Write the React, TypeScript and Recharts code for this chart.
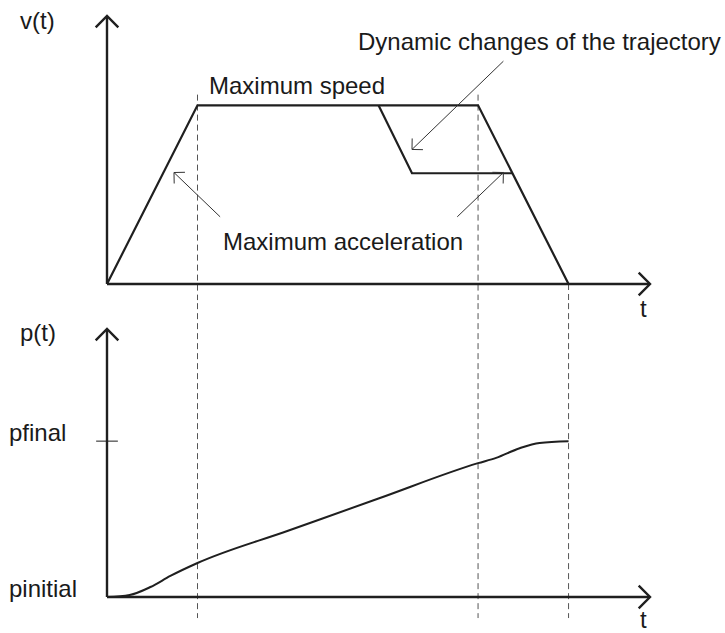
import React from "react";
import { LineChart, Line, XAxis, YAxis, ReferenceLine } from "recharts";

const INK = "#1f1f1f";
const FONT = "'Liberation Sans', Arial, Helvetica, sans-serif";

// speed profile: time vs speed (max speed = 1)
const speedT = [0, 1, 4.1, 5.1];
const speedV = [0, 1, 1, 0];

// dynamic change of the trajectory
const changeT = [3.0, 3.37, 4.48];
const changeV = [1, 0.62, 0.62];

// position profile (pinitial = 0, pfinal = 1)
const posT = [0, 0.25, 0.48, 0.7, 1, 2, 3, 4.1, 4.3, 4.56, 4.78, 5.1];
const posP = [0, 0.013, 0.064, 0.135, 0.218, 0.425, 0.632, 0.859, 0.893, 0.955, 0.989, 1.0];

// phase boundaries (end of accel, start of decel, stop)
const phaseT = [1, 4.1, 5.1];

const speed = speedT.map((t, i) => ({ t, v: speedV[i] }));
const change = changeT.map((t, i) => ({ t, v: changeV[i] }));
const position = posT.map((t, i) => ({ t, p: posP[i] }));

const arrow =
  (len: number, stroke: string, width: number) =>
  (props: any) => {
    const { x1, y1, x2, y2 } = props;
    const a = Math.atan2(y2 - y1, x2 - x1);
    const h = Math.PI / 4;
    const ax = x2 - len * Math.cos(a - h);
    const ay = y2 - len * Math.sin(a - h);
    const bx = x2 - len * Math.cos(a + h);
    const by = y2 - len * Math.sin(a + h);
    return (
      <g>
        <line x1={x1} y1={y1} x2={x2} y2={y2} stroke={stroke} strokeWidth={width} />
        <polyline
          points={`${ax},${ay} ${x2},${y2} ${bx},${by}`}
          fill="none"
          stroke={stroke}
          strokeWidth={width}
        />
      </g>
    );
  };

const axisArrow = arrow(16, INK, 2.4);
const noteArrow = arrow(11, "#333", 1);

const txt = { fontFamily: FONT, fontSize: 24, fill: "#1a1a1a" };

const PTick = ({ y, payload }: any) => (
  <text x={9} y={y} {...txt}>
    {payload.value === 1 ? "pfinal" : "pinitial"}
  </text>
);

export default function App() {
  return (
    <div
      style={{
        position: "absolute",
        left: 0,
        top: 0,
        width: 725,
        height: 633,
        background: "#fff",
      }}
    >
      <div style={{ position: "absolute", left: 0, top: 300 }}>
        <LineChart
          width={725}
          height={333}
          margin={{ top: 29, right: 75, bottom: 36, left: 0 }}
        >
          <XAxis type="number" dataKey="t" domain={[0, 6]} hide />
          <YAxis
            type="number"
            domain={[0, 1.72]}
            width={107}
            ticks={[0, 1]}
            tick={<PTick />}
            axisLine={false}
            tickLine={false}
          />
          {phaseT.map((t) => (
            <ReferenceLine
              key={t}
              segment={[
                { x: t, y: 1.95 },
                { x: t, y: -0.135 },
              ]}
              stroke="#555"
              strokeDasharray="6 4"
              strokeWidth={1}
              ifOverflow="visible"
            />
          ))}
          <ReferenceLine
            segment={[
              { x: -0.12, y: 1 },
              { x: 0.12, y: 1 },
            ]}
            stroke="#666"
            strokeWidth={1.5}
            ifOverflow="visible"
          />
          <ReferenceLine
            segment={[
              { x: 0, y: 0 },
              { x: 0, y: 1.72 },
            ]}
            ifOverflow="visible"
            shape={axisArrow}
          />
          <ReferenceLine
            segment={[
              { x: 0, y: 0 },
              { x: 6, y: 0 },
            ]}
            ifOverflow="visible"
            shape={axisArrow}
          />
          <Line
            data={position}
            dataKey="p"
            type="monotone"
            stroke={INK}
            strokeWidth={2}
            dot={false}
            isAnimationActive={false}
          />
          <text x={20} y={41} {...txt}>p(t)</text>
          <text x={640} y={328} {...txt}>t</text>
        </LineChart>
      </div>

      <div style={{ position: "absolute", left: 0, top: 0 }}>
        <LineChart
          width={725}
          height={325}
          margin={{ top: 16, right: 75, bottom: 41, left: 107 }}
        >
          <XAxis type="number" dataKey="t" domain={[0, 6]} hide />
          <YAxis type="number" domain={[0, 1.5]} hide />
          {phaseT.map((t, i) => (
            <ReferenceLine
              key={t}
              segment={[
                { x: t, y: i < 2 ? 1.06 : 0 },
                { x: t, y: -0.09 },
              ]}
              stroke="#555"
              strokeDasharray="6 4"
              strokeWidth={1}
              ifOverflow="visible"
            />
          ))}
          <ReferenceLine
            segment={[
              { x: 0, y: 0 },
              { x: 0, y: 1.5 },
            ]}
            ifOverflow="visible"
            shape={axisArrow}
          />
          <ReferenceLine
            segment={[
              { x: 0, y: 0 },
              { x: 6, y: 0 },
            ]}
            ifOverflow="visible"
            shape={axisArrow}
          />
          <Line
            data={speed}
            dataKey="v"
            type="linear"
            stroke={INK}
            strokeWidth={2.2}
            dot={false}
            isAnimationActive={false}
          />
          <Line
            data={change}
            dataKey="v"
            type="linear"
            stroke={INK}
            strokeWidth={2.2}
            dot={false}
            isAnimationActive={false}
          />
          <ReferenceLine
            segment={[
              { x: 1.25, y: 0.376 },
              { x: 0.74, y: 0.624 },
            ]}
            ifOverflow="visible"
            shape={noteArrow}
          />
          <ReferenceLine
            segment={[
              { x: 3.87, y: 0.376 },
              { x: 4.38, y: 0.624 },
            ]}
            ifOverflow="visible"
            shape={noteArrow}
          />
          <ReferenceLine
            segment={[
              { x: 4.38, y: 1.247 },
              { x: 3.37, y: 0.753 },
            ]}
            ifOverflow="visible"
            shape={noteArrow}
          />
          <text x={20} y={29} {...txt}>v(t)</text>
          <text x={209} y={94} {...txt}>Maximum speed</text>
          <text x={358} y={50} {...txt}>Dynamic changes of the trajectory</text>
          <text x={223} y={250} {...txt}>Maximum acceleration</text>
          <text x={640} y={317} {...txt}>t</text>
        </LineChart>
      </div>
    </div>
  );
}
